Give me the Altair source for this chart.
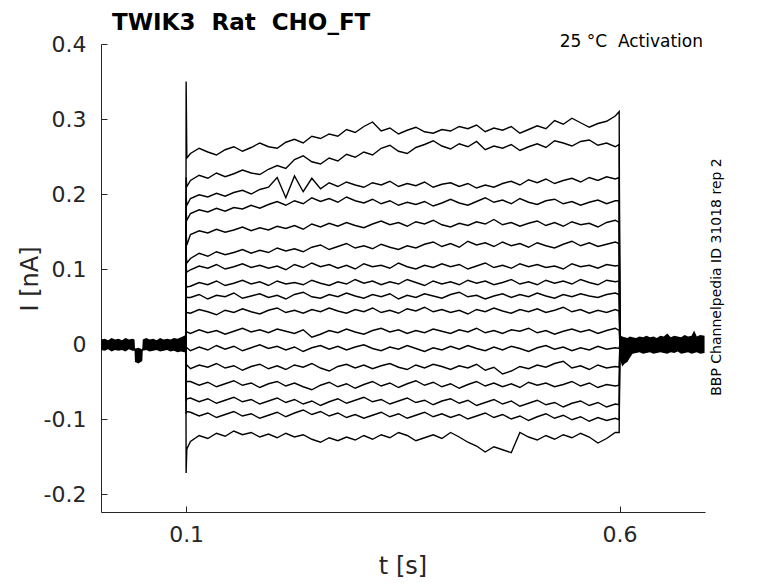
import altair as alt
import pandas as pd

# ---------------- data (currents in pA, i.e. 1e-3 nA) ----------------
X_TICKS = [0.1, 0.6]
Y_TICKS = [-0.2, -0.1, 0.0, 0.1, 0.2, 0.3, 0.4]
X_DOMAIN = [0.0018, 0.6985]
Y_DOMAIN = [-0.224, 0.4]

GRID_T = [0.105, 0.115, 0.125, 0.135, 0.145, 0.155, 0.165, 0.175, 0.185, 0.195,
          0.205, 0.215, 0.225, 0.235, 0.245, 0.255, 0.265, 0.275, 0.285, 0.295,
          0.305, 0.315, 0.325, 0.335, 0.345, 0.355, 0.365, 0.375, 0.385, 0.395,
          0.405, 0.415, 0.425, 0.435, 0.445, 0.455, 0.465, 0.475, 0.485, 0.495,
          0.505, 0.515, 0.525, 0.535, 0.545, 0.555, 0.565, 0.575, 0.585, 0.595]

T01 = [254, 261, 256, 252, 259, 263, 257, 262, 268, 263, 261, 269, 273, 268, 277, 274, 280, 277, 286, 282,
       290, 296, 284, 288, 280, 285, 289, 283, 281, 286, 284, 290, 287, 292, 283, 288, 285, 290, 281, 286,
       291, 287, 298, 293, 301, 295, 289, 294, 297, 304]
T02 = [218, 225, 221, 228, 223, 227, 232, 228, 226, 233, 238, 234, 246, 251, 243, 240, 248, 244, 253, 249,
       256, 252, 261, 265, 257, 254, 262, 266, 271, 264, 260, 267, 263, 270, 259, 264, 261, 266, 258, 263,
       267, 262, 271, 268, 264, 270, 272, 265, 268, 263]
T03 = [194, 199, 196, 201, 197, 202, 205, 200, 206, 209, 222, 195, 224, 203, 221, 207, 215, 210, 216, 212,
       209, 215, 212, 217, 210, 214, 211, 216, 209, 213, 215, 210, 214, 208, 212, 209, 214, 217, 212, 219,
       215, 220, 214, 218, 221, 216, 222, 218, 223, 220]
T04 = [174, 179, 176, 181, 177, 182, 180, 185, 181, 186, 190, 185, 191, 187, 195, 190, 194, 189, 196, 191,
       188, 193, 187, 191, 185, 189, 186, 190, 184, 188, 193, 188, 185, 190, 195, 189, 192, 187, 194, 189,
       186, 191, 193, 187, 190, 185, 189, 192, 187, 191]
T05 = [146, 151, 148, 153, 149, 152, 156, 151, 155, 152, 157, 154, 158, 153, 160, 156, 161, 157, 162, 158,
       155, 160, 164, 159, 162, 157, 163, 160, 165, 159, 156, 161, 158, 163, 160, 166, 159, 162, 157, 161,
       164, 158, 162, 157, 163, 159, 161, 156, 162, 165]
T06 = [114, 121, 117, 123, 119, 122, 126, 121, 125, 122, 128, 124, 127, 123, 129, 132, 126, 130, 134, 128,
       131, 127, 133, 129, 126, 131, 128, 133, 136, 130, 134, 129, 137, 132, 135, 130, 136, 131, 134, 129,
       135, 131, 128, 133, 137, 131, 135, 130, 133, 136]
T07 = [99, 104, 101, 106, 100, 103, 107, 102, 105, 101, 104, 99, 106, 102, 108, 103, 106, 101, 105, 100,
       107, 103, 105, 101, 108, 103, 100, 105, 102, 107, 103, 106, 100, 104, 108, 102, 105, 101, 107, 103,
       106, 102, 104, 100, 107, 103, 105, 101, 106, 104]
T08 = [77, 82, 79, 84, 78, 81, 85, 80, 83, 78, 84, 80, 82, 79, 85, 81, 78, 83, 80, 86,
       81, 84, 79, 83, 80, 86, 82, 78, 84, 80, 83, 79, 85, 81, 84, 79, 82, 86, 80, 83,
       79, 85, 81, 84, 80, 86, 82, 79, 85, 83]
T09 = [62, 66, 60, 65, 63, 68, 61, 64, 67, 62, 65, 60, 66, 69, 63, 61, 66, 63, 68, 64,
       61, 66, 63, 67, 60, 65, 62, 67, 64, 61, 66, 69, 63, 65, 60, 64, 67, 62, 66, 63,
       68, 64, 61, 66, 63, 67, 64, 62, 66, 68]
T10 = [41, 46, 43, 39, 45, 42, 47, 43, 40, 45, 48, 42, 45, 41, 46, 43, 48, 44, 41, 46,
       43, 48, 42, 45, 41, 47, 44, 49, 43, 46, 42, 45, 40, 46, 43, 48, 44, 41, 46, 43,
       47, 42, 45, 49, 43, 46, 41, 45, 42, 46]
T11 = [14, 19, 15, 18, 13, 17, 21, 16, 19, 15, 20, 17, 14, 19, 9, 13, 18, 15, 20, 16,
       13, 18, 21, 16, 19, 14, 18, 15, 20, 17, 14, 19, 16, 21, 15, 18, 14, 19, 17, 21,
       15, 18, 13, 17, 20, 16, 19, 14, 18, 21]
T12 = [-9, -4, -8, -2, -7, -3, -9, -5, -1, -6, -3, -8, -4, -10, -5, -2, -7, -3, -8, -4,
       -1, -6, -9, -4, -7, -2, -6, -10, -5, -8, -3, -7, -2, -6, -9, -4, -8, -3, -6, -10,
       -5, -2, -7, -4, -9, -5, -8, -3, -7, -5]
T13 = [-33, -28, -31, -26, -32, -29, -35, -30, -27, -33, -29, -34, -28, -31, -26, -32, -36, -30, -27, -32,
       -28, -33, -29, -26, -31, -34, -28, -32, -27, -30, -34, -29, -32, -27, -35, -31, -40, -36, -30, -33,
       -28, -31, -26, -23, -32, -29, -34, -28, -32, -30]
T14 = [-50, -55, -51, -57, -53, -49, -55, -52, -58, -53, -50, -56, -52, -57, -61, -55, -51, -57, -53, -59,
       -54, -50, -56, -52, -58, -53, -49, -55, -51, -57, -53, -59, -54, -50, -56, -52, -57, -53, -58, -51,
       -55, -52, -57, -54, -50, -56, -52, -58, -54, -56]
T15 = [-72, -77, -73, -79, -75, -71, -77, -74, -80, -76, -72, -78, -74, -80, -76, -82, -77, -73, -79, -75,
       -71, -77, -74, -80, -76, -72, -78, -75, -81, -76, -73, -79, -75, -82, -78, -74, -80, -76, -83, -79,
       -75, -81, -78, -84, -79, -76, -82, -78, -84, -80]
T16 = [-91, -96, -92, -98, -94, -90, -96, -93, -99, -95, -91, -97, -92, -88, -94, -90, -96, -92, -98, -94,
       -99, -95, -91, -97, -93, -99, -95, -91, -97, -93, -98, -94, -100, -96, -92, -98, -94, -100, -96, -102,
       -97, -93, -99, -95, -101, -97, -103, -98, -102, -99]
T17 = [-130, -122, -126, -119, -123, -116, -121, -118, -124, -120, -125, -119, -124, -121, -127, -131, -125, -129, -124, -128,
       -122, -127, -121, -125, -118, -122, -129, -125, -121, -126, -118, -124, -131, -136, -144, -137, -141, -145, -118, -124,
       -128, -122, -127, -121, -125, -119, -124, -132, -126, -118]
TRACE_VALUES = [T01, T02, T03, T04, T05, T06, T07, T08, T09, T10, T11, T12, T13, T14, T15, T16, T17]

# step onset (t = 0.1 s) and offset (t = 0.6 s)
T_PRE, T_ON, T_START, T_END, T_OFF = 0.0997, 0.1, 0.1008, 0.5995, 0.6003
SPIKE = [350, 222, 196, 176, 149, 119, 101, 79, 64, 43, 18, -6, -29, -52, -76, -93, -172]
START = [248, 210, 185, 165, 132, 108, 96, 76, 62, 42, 16, -5, -28, -50, -73, -90, -140]
END = [310, 266, 222, 191, 162, 134, 105, 84, 66, 44, 18, -6, -31, -55, -81, -101, -118]

# holding-current noise band before and after the step
PRE_T = [0.002, 0.006, 0.010, 0.014, 0.018, 0.022, 0.026, 0.030, 0.034, 0.038, 0.0405, 0.041,
         0.045, 0.049, 0.0495, 0.050, 0.054, 0.058, 0.062, 0.066, 0.070, 0.074, 0.078, 0.082,
         0.086, 0.090, 0.094, 0.098, 0.0997]
PRE_HI = [6, 7, 5, 8, 6, 7, 5, 8, 6, 7, 6, -6, -5, -7, -5, 6, 8, 6, 7, 5, 8, 6, 7, 6, 8, 7, 9, 11, 13]
PRE_LO = [-8, -9, -7, -10, -8, -9, -8, -10, -7, -9, -9, -24, -26, -23, -22, -9, -8, -10, -9, -8,
          -10, -9, -8, -10, -9, -11, -10, -11, -12]
POST_T = [0.6003, 0.603, 0.606, 0.609, 0.612, 0.615, 0.619, 0.623, 0.627, 0.631, 0.635, 0.639, 0.643,
          0.647, 0.651, 0.655, 0.659, 0.663, 0.667, 0.671, 0.675, 0.679, 0.683, 0.686, 0.689, 0.693, 0.698]
POST_HI = [12, 10, 9, 8, 10, 9, 8, 10, 9, 11, 9, 10, 8, 11, 10, 14, 9, 11, 10, 9, 12, 10, 11, 18, 10, 12, 11]
POST_LO = [-20, -30, -26, -24, -18, -13, -12, -11, -13, -12, -11, -13, -12, -11, -12, -13, -11, -12,
           -10, -13, -12, -11, -13, -12, -11, -13, -12]

NB = "\u00a0"
TITLE = "TWIK3" + NB * 2 + "Rat" + NB * 2 + "CHO_FT"
CONDITION = "25 °C" + NB * 2 + "Activation"
SOURCE = "BBP Channelpedia ID 31018 rep 2"
X_TITLE = "t [s]"
Y_TITLE = "I [nA]"

# ---------------- tables ----------------
rows = []
for k, vals in enumerate(TRACE_VALUES):
    ts = [T_PRE, T_ON, T_START] + GRID_T + [T_END, T_OFF]
    vs = [0, SPIKE[k], START[k]] + vals + [END[k], 0]
    for t, v in zip(ts, vs):
        rows.append({"trace": k, "t": t, "i": v / 1000.0})
trace_df = pd.DataFrame(rows)

band_rows = []
for t, lo, hi in zip(PRE_T, PRE_LO, PRE_HI):
    band_rows.append({"seg": "pre", "t": t, "lo": lo / 1000.0, "hi": hi / 1000.0})
for t, lo, hi in zip(POST_T, POST_LO, POST_HI):
    band_rows.append({"seg": "post", "t": t, "lo": lo / 1000.0, "hi": hi / 1000.0})
band_df = pd.DataFrame(band_rows)

# ---------------- chart ----------------
W, H = 604, 468
FONT = "DejaVu Sans"
AX = "#262626"

x_scale = alt.Scale(domain=X_DOMAIN, nice=False, zero=False)
y_scale = alt.Scale(domain=Y_DOMAIN, nice=False, zero=False)

band = alt.Chart(band_df).mark_area(color="black", clip=True).encode(
    x=alt.X("t:Q", scale=x_scale,
            axis=alt.Axis(orient="top", offset=-H, values=X_TICKS, labels=False, domain=False,
                          ticks=True, tickSize=6, tickColor=AX, grid=False, title=None)),
    y=alt.Y("lo:Q", scale=y_scale,
            axis=alt.Axis(orient="right", offset=-W, values=Y_TICKS, labels=False, domain=False,
                          ticks=True, tickSize=6, tickColor=AX, grid=False, title=None)),
    y2="hi:Q",
    detail="seg:N",
)

traces = alt.Chart(trace_df).mark_line(color="black", strokeWidth=1.4, clip=True).encode(
    x=alt.X("t:Q", scale=x_scale,
            axis=alt.Axis(orient="bottom", values=X_TICKS, format=".1f", ticks=False, grid=False,
                          domainColor=AX, labelColor=AX, labelFont=FONT, labelFontSize=22,
                          labelPadding=12, title=None)),
    y=alt.Y("i:Q", scale=y_scale,
            axis=alt.Axis(orient="left", values=Y_TICKS, ticks=False, grid=False,
                          labelExpr="datum.value == 0 ? '0' : replace(format(datum.value, '.1f'), '\u2212', '-')",
                          domainColor=AX, labelColor=AX, labelFont=FONT, labelFontSize=22,
                          labelPadding=15, title=None)),
    detail="trace:N",
    order="t:Q",
)


def label(text, x, y, size, angle=0, align="center", baseline="middle", weight="normal", color="black"):
    return alt.Chart(pd.DataFrame({"s": [text]})).mark_text(
        font=FONT, fontSize=size, angle=angle, align=align, baseline=baseline,
        fontWeight=weight, color=color,
    ).encode(text="s:N", x=alt.value(x), y=alt.value(y))


texts = [
    label(TITLE, 11, -14, 23, align="left", baseline="alphabetic", weight="bold"),
    label(CONDITION, 602, 3, 17, align="right", baseline="alphabetic"),
    label(SOURCE, 616, 233, 14, angle=270),
    label(Y_TITLE, -70, 235, 24, angle=270, color=AX),
    label(X_TITLE, 302, 523, 24, color=AX),
]

chart = alt.layer(band, traces, *texts).resolve_axis(
    x="independent", y="independent"
).properties(
    width=W, height=H,
    padding={"left": 93, "top": 36, "right": 65, "bottom": 71},
    autosize=alt.AutoSizeParams(type="none"),
    background="white",
).configure_view(stroke=None)

chart.save("out.html", embed_options={"renderer": "svg", "actions": False})
